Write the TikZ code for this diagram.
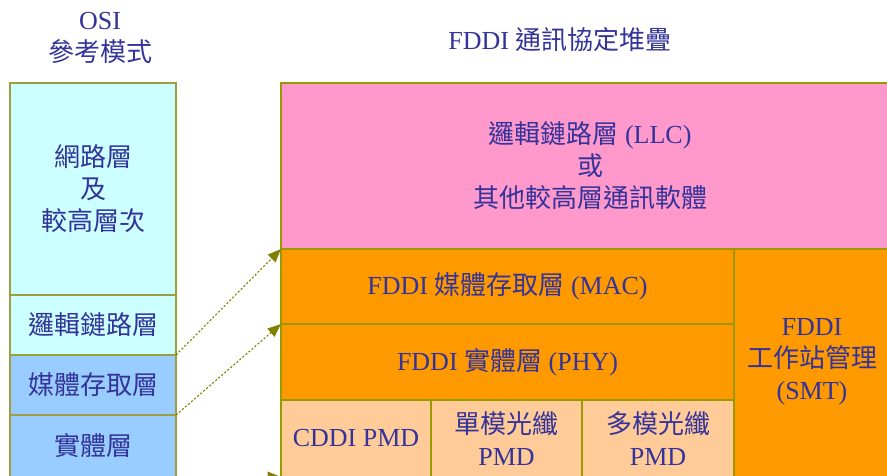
\documentclass[tikz,border=0pt]{standalone}
\usepackage{fontspec}
\setmainfont{Liberation Serif}
\newfontfamily\cjk{Noto Sans CJK TC}
\usetikzlibrary{arrows.meta}
\definecolor{txt}{HTML}{333399}
\definecolor{lcyan}{HTML}{CCFFFF}
\definecolor{lblue}{HTML}{99CCFF}
\definecolor{lpink}{HTML}{FF99CC}
\definecolor{lorange}{HTML}{FF9900}
\definecolor{lpeach}{HTML}{FFCC99}
\definecolor{bord}{HTML}{9E9E40}
\definecolor{rbord}{HTML}{999900}
\definecolor{arr}{HTML}{808000}
\newcommand\C[1]{{\cjk #1}}
\tikzset{
  every node/.style={text=txt, font=\fontsize{19.5}{24}\selectfont, align=center},
  lbox/.style={draw=bord, line width=0.8pt, inner sep=0pt, outer sep=0pt, anchor=north west},
  rbox/.style={draw=rbord, line width=0.8pt, inner sep=0pt, outer sep=0pt, anchor=north west},
  conn/.style={arr, line width=0.8pt, dash pattern=on 1.6pt off 1.4pt, -{Triangle[length=10pt,width=8pt]}},
}
\begin{document}
\begin{tikzpicture}[x=0.75pt,y=-0.75pt]
\useasboundingbox (0,0) rectangle (887,475);
\clip (0,0) rectangle (887,475);
% titles
\node (t1) at (100,21) {OSI};
\node (t2) at (100,52) {\C{參考模式}};
\node (t3) at (560,40) {FDDI \C{通訊協定堆疊}};
% left column
\node[lbox, fill=lcyan, minimum width=166*0.75pt, minimum height=212*0.75pt] (net) at (10,83) {\C{網路層}\\\C{及}\\\C{較高層次}};
\node[lbox, fill=lcyan, minimum width=166*0.75pt, minimum height=60*0.75pt] (llcl) at (10,295) {\C{邏輯鏈路層}};
\node[lbox, fill=lblue, minimum width=166*0.75pt, minimum height=60*0.75pt] (macl) at (10,355) {\C{媒體存取層}};
\node[lbox, fill=lblue, minimum width=166*0.75pt, minimum height=62*0.75pt] (phyl) at (10,415) {\C{實體層}};
% right stack
\node[rbox, fill=lpink, minimum width=620*0.75pt, minimum height=166*0.75pt] (llc) at (281,83) {};
\node (llctext) at (590,166) {\C{邏輯鏈路層} (LLC)\\\C{或}\\\C{其他較高層通訊軟體}};
\node[rbox, fill=lorange, minimum width=453*0.75pt, minimum height=75*0.75pt] (mac) at (281,249) {FDDI \C{媒體存取層} (MAC)};
\node[rbox, fill=lorange, minimum width=453*0.75pt, minimum height=76*0.75pt] (phy) at (281,324) {FDDI \C{實體層} (PHY)};
\node[rbox, fill=lpeach, minimum width=150*0.75pt, minimum height=77*0.75pt] (pmd1) at (281,400) {CDDI PMD};
\node[rbox, fill=lpeach, minimum width=151*0.75pt, minimum height=77*0.75pt] (pmd2) at (431,400) {\C{單模光纖}\\PMD};
\node[rbox, fill=lpeach, minimum width=152*0.75pt, minimum height=77*0.75pt] (pmd3) at (582,400) {\C{多模光纖}\\PMD};
\node[rbox, fill=lorange, minimum width=170*0.75pt, minimum height=228*0.75pt] (smt) at (734,249) {};
\node (smttext) at (812,362) {FDDI\\\C{工作站管理}\\(SMT)};
% connectors
\draw[conn] (llcl.south east) -- (mac.north west);
\draw[conn] (macl.south east) -- (phy.north west);
\draw[conn] (phyl.south east) -- (pmd1.south west);
\end{tikzpicture}
\end{document}
